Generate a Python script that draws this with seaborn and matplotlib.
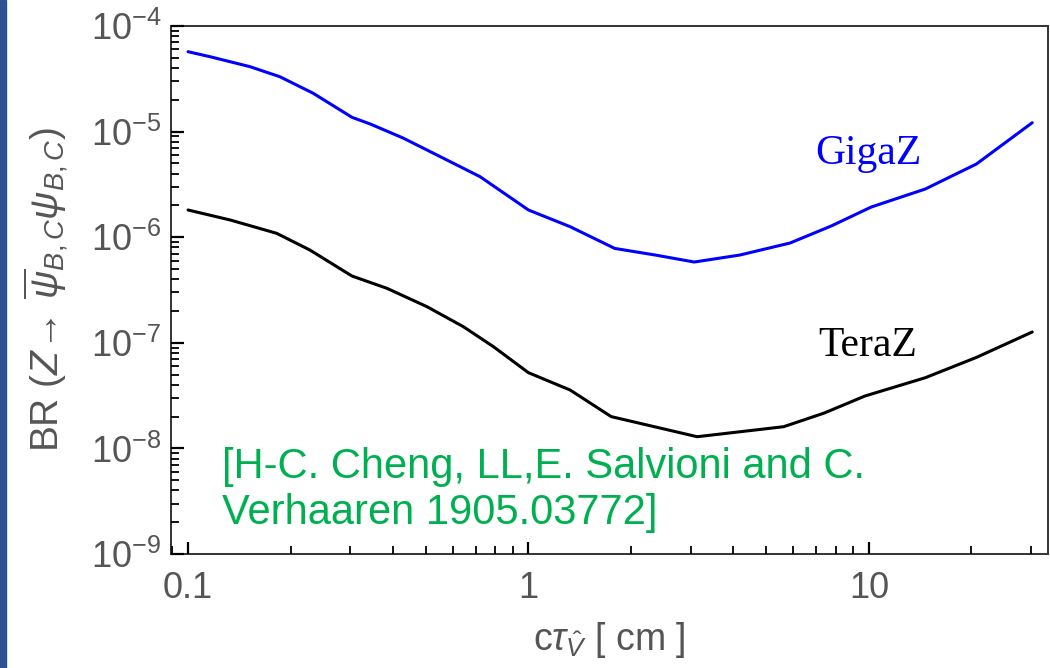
import numpy as np
import pandas as pd
import matplotlib
matplotlib.use("Agg")
import matplotlib.pyplot as plt
import matplotlib.ticker as mticker
from matplotlib.patches import Rectangle
import seaborn as sns

# ---- data ----
giga_x = [0.1, 0.116, 0.152, 0.186, 0.233, 0.303, 0.343, 0.428, 0.561, 0.721, 1.0,
          1.326, 1.793, 2.357, 3.07, 4.18, 5.87, 7.75, 10.16, 14.65, 20.7, 30.2]
giga_y = [5.71e-5, 5.12e-5, 4.12e-5, 3.31e-5, 2.31e-5, 1.366e-5, 1.18e-5, 8.7e-6, 5.62e-6, 3.74e-6, 1.81e-6,
          1.257e-6, 7.83e-7, 6.78e-7, 5.82e-7, 6.78e-7, 8.81e-7, 1.276e-6, 1.93e-6, 2.86e-6, 4.93e-6, 1.214e-5]
tera_x = [0.1, 0.133, 0.182, 0.228, 0.303, 0.384, 0.503, 0.644, 0.789, 1.0,
          1.326, 1.75, 3.13, 5.62, 7.39, 9.73, 14.65, 20.7, 30.2]
tera_y = [1.81e-6, 1.455e-6, 1.089e-6, 7.56e-7, 4.29e-7, 3.28e-7, 2.20e-7, 1.42e-7, 9.19e-8, 5.21e-8,
          3.57e-8, 2.0e-8, 1.29e-8, 1.605e-8, 2.16e-8, 3.13e-8, 4.67e-8, 7.27e-8, 1.266e-7]
series_names = ["GigaZ", "TeraZ"]
series_colors = ["#0000FF", "#000000"]
x_tick_values = [0.1, 1, 10]
x_tick_labels = ["0.1", "1", "10"]
citation = "[H-C. Cheng, LL,E. Salvioni and C.\nVerhaaren 1905.03772]"

df = pd.concat([
    pd.DataFrame({"x": giga_x, "y": giga_y, "series": series_names[0]}),
    pd.DataFrame({"x": tera_x, "y": tera_y, "series": series_names[1]}),
], ignore_index=True)

sns.set_theme(style="ticks")
plt.rcParams['font.family'] = ['Liberation Sans', 'DejaVu Sans']
plt.rcParams['mathtext.fontset'] = 'custom'
plt.rcParams['mathtext.rm'] = 'Liberation Sans'
plt.rcParams['mathtext.it'] = 'Liberation Sans:italic'
plt.rcParams['mathtext.bf'] = 'Liberation Sans:bold'
plt.rcParams['axes.axisbelow'] = False

fig = plt.figure(figsize=(10.5, 6.68), dpi=100)
ax = fig.add_axes([171/1050, 1 - 554/668, (1048-171)/1050, (554-26)/668])
ax.set_axisbelow(False)

sns.lineplot(data=df, x="x", y="y", hue="series", palette=dict(zip(series_names, series_colors)),
             estimator=None, sort=False, linewidth=2.2, legend=False, ax=ax)

ax.set_xscale("log")
ax.set_yscale("log")
ax.set_xlim(0.0891, 33.6)
ax.set_ylim(1e-9, 1e-4)

gray = "#555555"
ax.xaxis.set_major_locator(mticker.FixedLocator(x_tick_values))
ax.xaxis.set_major_formatter(mticker.FixedFormatter(x_tick_labels))
ax.xaxis.set_minor_locator(mticker.LogLocator(base=10, subs=np.arange(2, 10)))
ax.xaxis.set_minor_formatter(mticker.NullFormatter())
ax.yaxis.set_major_locator(mticker.LogLocator(base=10, numticks=10))
ax.yaxis.set_minor_locator(mticker.LogLocator(base=10, subs=np.arange(2, 10), numticks=20))
ax.yaxis.set_minor_formatter(mticker.NullFormatter())

for axis in (ax.xaxis, ax.yaxis):
    axis.set_tick_params(which="both", direction="in", color="#000000")
    axis.set_tick_params(which="major", length=9, width=1.6)
    axis.set_tick_params(which="minor", length=6, width=1.3)
ax.xaxis.set_ticks_position("bottom")
ax.yaxis.set_ticks_position("left")
ax.tick_params(axis="y", which="major", labelsize=26, labelcolor=gray, pad=7)
ax.tick_params(axis="x", which="major", labelsize=26, labelcolor=gray, pad=12)

for s in ax.spines.values():
    s.set_visible(True)
    s.set_color("#333333")
    s.set_linewidth(1.4)

ax.set_xlabel(r"c$\tau_{\hat{V}}$ [ cm ]", fontsize=27, color=gray, labelpad=10)
ax.set_ylabel(r"BR $(Z\!\rightarrow\,\overline{\psi}_{B,C}\psi_{B,C})$", fontsize=28, color=gray, labelpad=14)

ax.text(9.95, 6.2e-6, series_names[0], color=series_colors[0], fontsize=30,
        family="Liberation Serif", ha="center", va="center")
ax.text(9.95, 9.4e-8, series_names[1], color=series_colors[1], fontsize=30,
        family="Liberation Serif", ha="center", va="center")
ax.text(0.126, 1.02e-8, citation, color="#00B050", fontsize=30, ha="left", va="top",
        linespacing=1.18)

# slide border on the left
fig.patches.append(Rectangle((0, 0), 6/1050, 1, transform=fig.transFigure,
                             color="#2E5290", zorder=10))

fig.savefig("out.png", dpi=100)
